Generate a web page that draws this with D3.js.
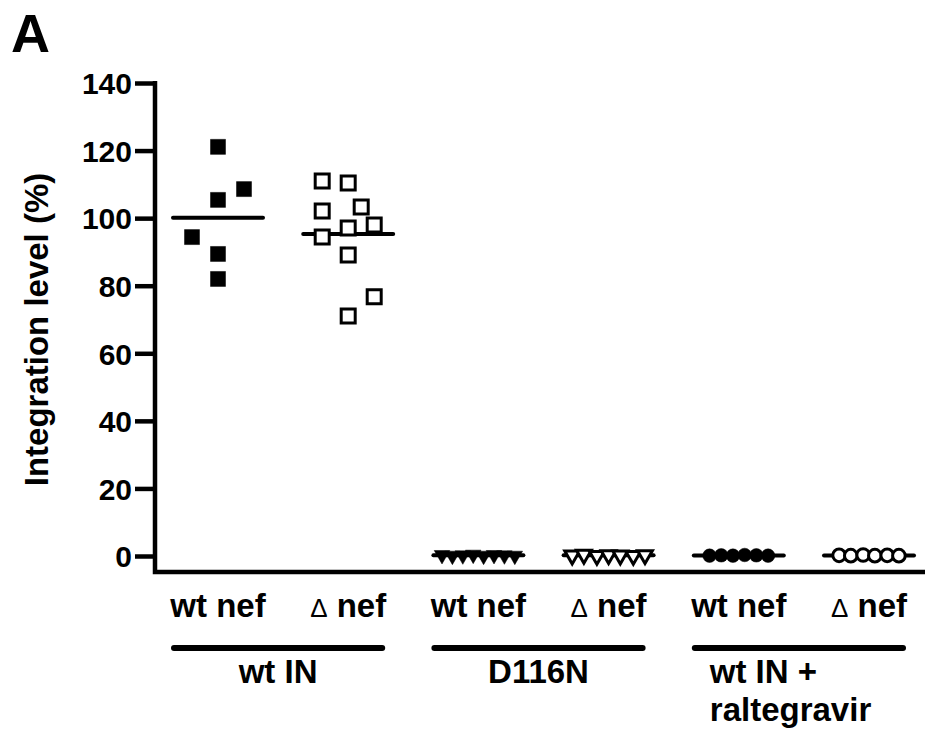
<!DOCTYPE html>
<html>
<head>
<meta charset="utf-8">
<script src="https://cdn.jsdelivr.net/npm/d3@7"></script>
<style>
  body { margin: 0; background: #fff; }
  text { font-family: "Liberation Sans", Arial, sans-serif; font-weight: bold; fill: #000; }
</style>
</head>
<body>
<div id="chart"></div>
<script>
// -- data ------------------------------------------------------------------
const columns  = ['wtIN_wt', 'wtIN_d', 'D116N_wt', 'D116N_d', 'ral_wt', 'ral_d'];
const subLabels = ['wt nef', '\u0394 nef', 'wt nef', '\u0394 nef', 'wt nef', '\u0394 nef'];
const groupLabels = [['wt IN'], ['D116N'], ['wt IN +', 'raltegravir']];
const yTicks = [0, 20, 40, 60, 80, 100, 120, 140];

// integration level (%) per replicate
const wtIN_wt   = [121.1, 108.6, 105.4, 94.4, 89.4, 82.0];
const wtIN_d    = [111.0, 110.4, 102.1, 103.3, 98.0, 97.1, 94.4, 89.1, 76.7, 71.0];
const D116N_wt  = [0.3, 0.1, 0.2, 0.4, 0.1, 0.3, 0.2, 0.1];
const D116N_d   = [0.2, 0.4, 0.1, 0.3, 0.2, 0.1, 0.3];
const ral_wt    = [0.1, 0.2, 0.1, 0.3, 0.2, 0.1];
const ral_d     = [0.2, 0.1, 0.3, 0.1, 0.2, 0.1];

// horizontal spread slot of each replicate (scatter-plot jitter as drawn)
const wtIN_wt_j  = [0, 2, 0, -2, 0, 0];
const wtIN_d_j   = [-2, 0, -2, 1, 2, 0, -2, 0, 2, 0];
const D116N_wt_j = [-2.8, -2, -1.2, -0.4, 0.4, 1.2, 2, 2.8];
const D116N_d_j  = [-2.8, -1.9, -0.9, 0, 0.9, 1.9, 2.8];
const ral_wt_j   = [-2.25, -1.35, -0.45, 0.45, 1.35, 2.25];
const ral_d_j    = [-2.3, -1.4, -0.45, 0.45, 1.4, 2.3];

const series = [
  { key: 'wtIN_wt',  values: wtIN_wt,  jitter: wtIN_wt_j,  shape: 'square',   filled: true  },
  { key: 'wtIN_d',   values: wtIN_d,   jitter: wtIN_d_j,   shape: 'square',   filled: false },
  { key: 'D116N_wt', values: D116N_wt, jitter: D116N_wt_j, shape: 'triangle', filled: true  },
  { key: 'D116N_d',  values: D116N_d,  jitter: D116N_d_j,  shape: 'triangle', filled: false },
  { key: 'ral_wt',   values: ral_wt,   jitter: ral_wt_j,   shape: 'circle',   filled: true  },
  { key: 'ral_d',    values: ral_d,    jitter: ral_d_j,    shape: 'circle',   filled: false }
];

// -- layout ----------------------------------------------------------------
const W = 931, H = 734;
const axisX = 155, axisBottom = 572, axisRight = 925;

const svg = d3.select('#chart').append('svg')
  .attr('width', W).attr('height', H);

const x = d3.scalePoint().domain(columns).range([218, 869]);
const y = d3.scaleLinear().domain([0, 140]).range([556, 83]);
const jit = d3.scaleLinear().domain([0, 1]).range([0, 13]);

// panel letter
svg.append('text').attr('x', 11).attr('y', 52)
  .style('font-size', '54px').text('A');

// y axis
const yAxis = svg.append('g')
  .attr('transform', `translate(${axisX},0)`)
  .call(d3.axisLeft(y).tickValues(yTicks).tickSize(20).tickPadding(3));
yAxis.select('.domain').remove();
yAxis.selectAll('.tick line').attr('stroke', '#000').attr('stroke-width', 4.5);
yAxis.selectAll('.tick text')
  .style('font-size', '30px')
  .style('font-family', '"Liberation Sans", Arial, sans-serif')
  .style('font-weight', 'bold')
  .attr('dy', '0.36em');

// axis lines
svg.append('path')
  .attr('d', `M${axisX},${y(140) - 2}V${axisBottom}H${axisRight}`)
  .attr('fill', 'none').attr('stroke', '#000').attr('stroke-width', 4.5);

// y label
svg.append('text')
  .attr('transform', `translate(48,${(y(140) + y(0)) / 2 + 10}) rotate(-90)`)
  .attr('text-anchor', 'middle')
  .style('font-size', '33px')
  .text('Integration level (%)');

// mean lines
series.forEach(s => {
  const m = d3.mean(s.values);
  const cx = x(s.key);
  svg.append('line')
    .attr('x1', cx - 45).attr('x2', cx + 45)
    .attr('y1', y(m)).attr('y2', y(m))
    .attr('stroke', '#000').attr('stroke-width', 4)
    .attr('stroke-linecap', 'round');
});

// points
const symbolFor = {
  square:   { type: d3.symbolSquare,   filledSize: 225, openSize: 196, rot: 0 },
  triangle: { type: d3.symbolTriangle, filledSize: 105, openSize: 95,  rot: 180 },
  circle:   { type: d3.symbolCircle,   filledSize: 145, openSize: 125, rot: 0 }
};

series.forEach(s => {
  const sym = symbolFor[s.shape];
  const gen = d3.symbol().type(sym.type).size(s.filled ? sym.filledSize : sym.openSize);
  svg.append('g').selectAll('path')
    .data(s.values.map((v, i) => ({ v, j: s.jitter[i] })))
    .join('path')
    .attr('d', gen)
    .attr('transform', d => `translate(${x(s.key) + jit(d.j)},${y(d.v)}) rotate(${sym.rot})`)
    .attr('fill', s.filled ? '#000' : '#fff')
    .attr('stroke', '#000')
    .attr('stroke-width', s.filled ? 0.5 : 3);
});

// category labels
columns.forEach((c, i) => {
  const t = svg.append('text')
    .attr('x', x(c)).attr('y', 617)
    .attr('text-anchor', 'middle')
    .style('font-size', '33px');
  const lab = subLabels[i];
  if (lab.startsWith('\u0394')) {
    t.append('tspan').style('font-size', '26px').style('font-weight', 'normal').text('\u0394');
    t.append('tspan').text(' ' + lab.slice(2));
  } else {
    t.text(lab);
  }
});

// group bars + labels
groupLabels.forEach((lines, g) => {
  const x0 = x(columns[g * 2]) - 44;
  const x1 = x(columns[g * 2 + 1]) + 34;
  svg.append('line')
    .attr('x1', x0).attr('x2', x1).attr('y1', 648).attr('y2', 648)
    .attr('stroke', '#000').attr('stroke-width', 6)
    .attr('stroke-linecap', 'round');
  const multi = lines.length > 1;
  const t = svg.append('text')
    .attr('x', multi ? x0 + 15 : (x0 + x1) / 2)
    .attr('y', 683)
    .attr('text-anchor', multi ? 'start' : 'middle')
    .style('font-size', '33px');
  lines.forEach((l, k) => {
    t.append('tspan')
      .attr('x', multi ? x0 + 15 : (x0 + x1) / 2)
      .attr('dy', k === 0 ? 0 : 38)
      .text(l);
  });
});
</script>
</body>
</html>
